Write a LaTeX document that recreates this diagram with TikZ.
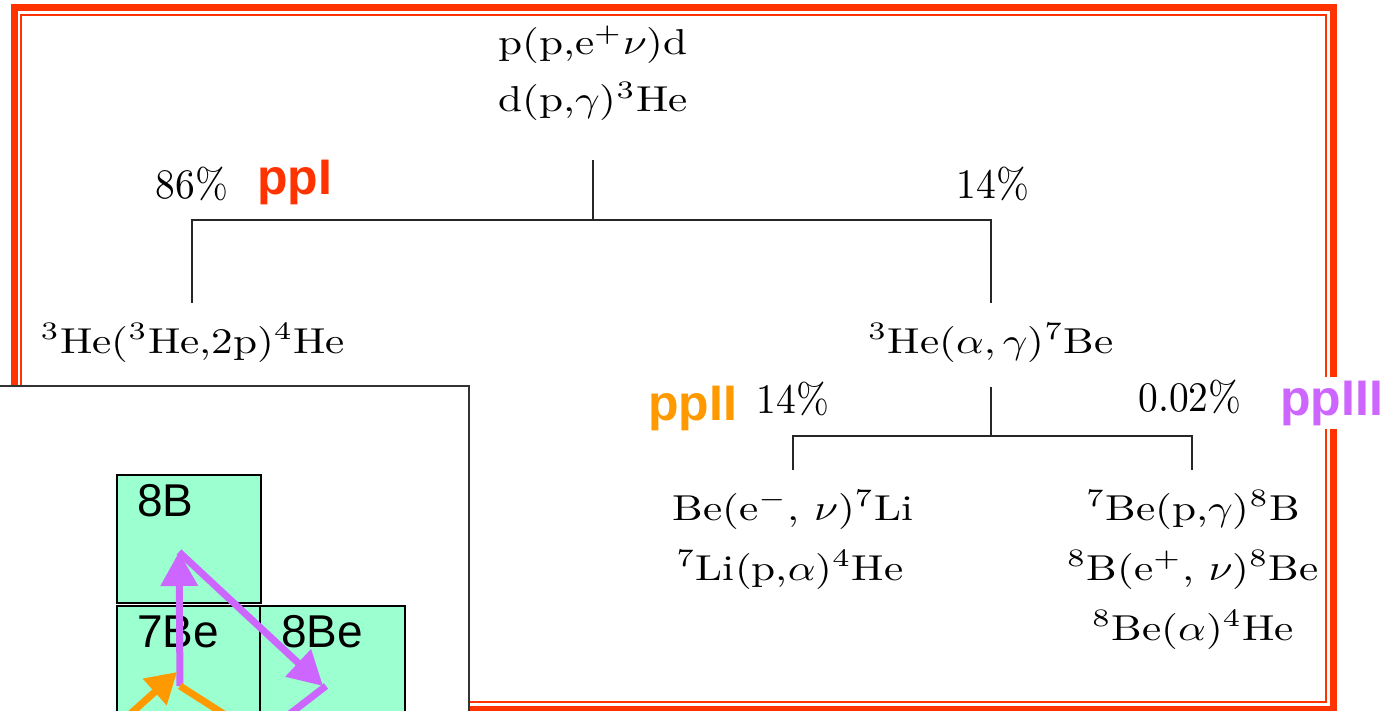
\documentclass[tikz,border=0pt]{standalone}
\usepackage{fontspec}
\usepackage{graphicx}
\newfontfamily\labelsans{Liberation Sans}
\usetikzlibrary{arrows.meta}
\definecolor{framered}{HTML}{FF3300}
\definecolor{chainI}{HTML}{FF3300}
\definecolor{chainII}{HTML}{FF9900}
\definecolor{chainIII}{HTML}{CC66FF}
\definecolor{mint}{HTML}{9CFFD0}
\definecolor{panelborder}{HTML}{333333}
% reactions: set at 10pt, enlarged and slightly widened
\newcommand{\rxn}[1]{\scalebox{4.32}[3.6]{\fontsize{10}{12}\selectfont #1}}
\newcommand{\pcnt}[1]{\scalebox{3.95}[4.2]{\fontsize{10}{12}\selectfont #1}}
\tikzset{
  rx/.style={anchor=base, inner sep=0pt},
  pct/.style={anchor=base, inner sep=0pt},
  chain/.style={font=\labelsans\bfseries\fontsize{50}{54}\selectfont, anchor=base west, inner sep=0pt},
  tree/.style={line width=1.4pt, black!85},
  cell/.style={fill=mint, draw=black, line width=1.5pt},
  celltext/.style={font=\labelsans\fontsize{46}{50}\selectfont, anchor=base west, inner sep=0pt},
  purplearrow/.style={chainIII, line width=7pt, -{Triangle[length=34pt,width=36pt]}},
  orangearrow/.style={chainII, line width=7pt, -{Triangle[length=30pt,width=34pt]}},
}
\begin{document}
\begin{tikzpicture}[x=1pt,y=-1pt]
\useasboundingbox (0,0) rectangle (1398,711);
\clip (0,0) rectangle (1398,711);

% double red frame
\draw[framered, line width=7pt] (14.5,8) rectangle (1333.5,709);
\draw[framered, line width=2pt] (21,15) rectangle (1326,702);

% pp-chain tree: common start
\node[rx] (l1) at (593,55) {\rxn{p(p,e$^+\nu$)d}};
\node[rx] (l2) at (593,112) {\rxn{d(p,$\gamma$)$^3$He}};
\coordinate (t0) at (593,160);
\coordinate (t1) at (593,220);
\coordinate (tl) at (192,220);
\coordinate (tr) at (991,220);
\coordinate (tlb) at (192,303);
\coordinate (trb) at (991,303);
\draw[tree] (t0) -- (t1);
\draw[tree] (tlb) -- (tl) -- (tr) -- (trb);

\node[pct] (p86) at (192,199) {\pcnt{86\%}};
\node[chain, text=chainI] (ppI) at (257,195) {ppI};
\node[pct] (p14a) at (993,199) {\pcnt{14\%}};

\node[rx] (he3he3) at (193,353) {\rxn{$^3$He($^3$He,2p)$^4$He}};
\node[rx] (he3al) at (991,353) {\rxn{$^3$He($\alpha,\gamma$)$^7$Be}};

% second branching
\coordinate (s0) at (991,387);
\coordinate (s1) at (991,436);
\coordinate (sl) at (793,436);
\coordinate (sr) at (1192,436);
\coordinate (slb) at (793,470);
\coordinate (srb) at (1192,470);
\draw[tree] (s0) -- (s1);
\draw[tree] (slb) -- (sl) -- (sr) -- (srb);

\node[chain, text=chainII] (ppII) at (648,420) {ppII};
\node[pct] (p14b) at (793,413) {\pcnt{14\%}};
\node[pct] (p002) at (1190,411) {\pcnt{0.02\%}};
\node[chain, text=chainIII, fill=white, inner sep=4pt] (ppIII) at (1276,415) {ppIII};

\node[rx] (ii1) at (793,520) {\rxn{Be(e$^-$, $\nu$)$^7$Li}};
\node[rx] (ii2) at (790,580) {\rxn{$^7$Li(p,$\alpha$)$^4$He}};
\node[rx] (iii1) at (1193,520) {\rxn{$^7$Be(p,$\gamma$)$^8$B}};
\node[rx] (iii2) at (1193,580) {\rxn{$^8$B(e$^+$, $\nu$)$^8$Be}};
\node[rx] (iii3) at (1193,640) {\rxn{$^8$Be($\alpha$)$^4$He}};

% nuclide chart panel
\draw[fill=white, draw=panelborder, line width=2pt] (-5,386) rectangle (469,720);
\draw[cell] (117,475) rectangle (261,603);
\draw[cell] (117,606) rectangle (260,725);
\draw[cell] (260,606) rectangle (405,725);
\node[celltext] (b8) at (137,516) {8B};
\node[celltext] (be7) at (137,647) {7Be};
\node[celltext] (be8) at (281,647) {8Be};

\coordinate (be7c) at (180,686);
\coordinate (b8c) at (179,552);
\coordinate (be8c) at (323,686);
\coordinate (offl) at (128,716);
\coordinate (offm) at (227,716);
\coordinate (offr) at (287,716);
\coordinate (be7in) at (177,672);

\draw[purplearrow] (be7c) -- (b8c);
\draw[purplearrow] (b8c) -- (be8c);
\draw[chainIII, line width=7pt] ([xshift=3pt]be8c) -- (offr);
\draw[orangearrow] (offl) -- (be7in);
\draw[chainII, line width=7pt] (be7c) -- (offm);
\end{tikzpicture}
\end{document}
